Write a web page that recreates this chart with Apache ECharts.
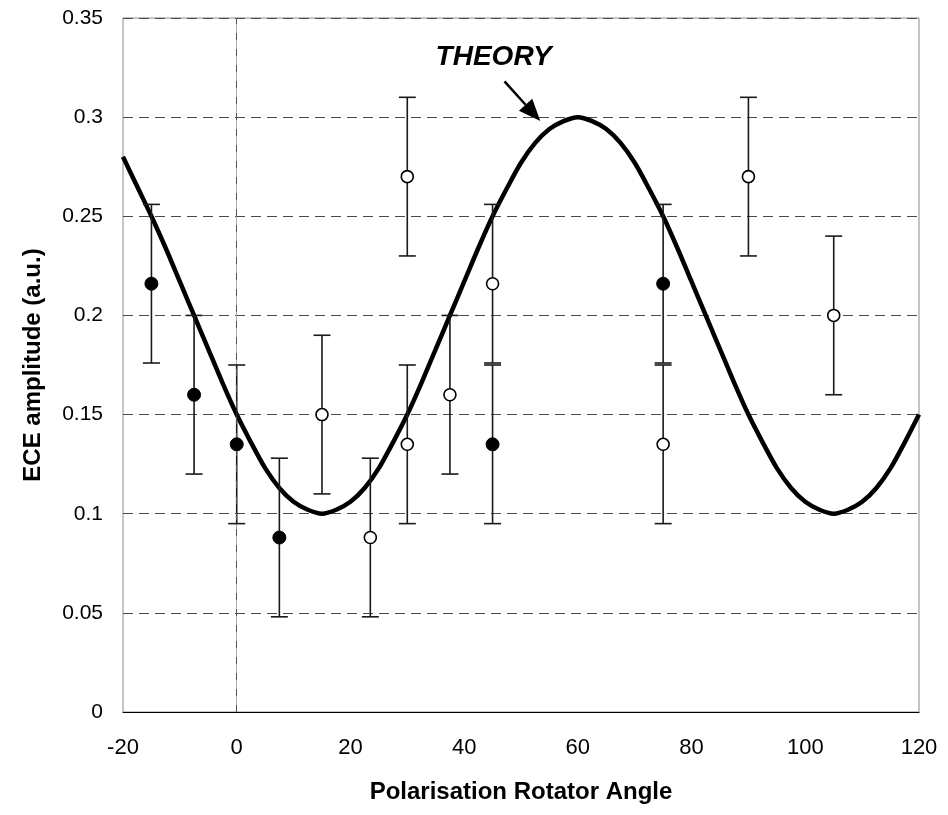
<!DOCTYPE html>
<html>
<head>
<meta charset="utf-8">
<script src="https://cdn.jsdelivr.net/npm/echarts@6/dist/echarts.min.js"></script>
<style>
  html, body { margin: 0; padding: 0; background: #fff; }
  #chart { width: 948px; height: 815px; }
</style>
</head>
<body>
<div id="chart"></div>
<script>
// Theoretical ECE amplitude vs. rotator angle (2.5 degree steps)
const theoryAngles = [-20, -17.5, -15, -12.5, -10, -7.5, -5, -2.5, 0, 2.5, 5, 7.5, 10, 12.5,
                      15, 17.5, 20, 22.5, 25, 27.5, 30, 32.5, 35, 37.5, 40, 42.5, 45, 47.5,
                      50, 52.5, 55, 57.5, 60, 62.5, 65, 67.5, 70, 72.5, 75, 77.5, 80, 82.5,
                      85, 87.5, 90, 92.5, 95, 97.5, 100, 102.5, 105, 107.5, 110, 112.5,
                      115, 117.5, 120];
const theoryValues = [0.280, 0.265, 0.250, 0.234, 0.217, 0.200, 0.183, 0.166, 0.150, 0.136,
                      0.123, 0.113, 0.106, 0.102, 0.100, 0.102, 0.106, 0.113, 0.123, 0.136,
                      0.150, 0.166, 0.183, 0.200, 0.217, 0.234, 0.250, 0.264, 0.277, 0.287,
                      0.294, 0.298, 0.300, 0.298, 0.294, 0.287, 0.277, 0.264, 0.250, 0.234,
                      0.217, 0.200, 0.183, 0.166, 0.150, 0.136, 0.123, 0.113, 0.106, 0.102,
                      0.100, 0.102, 0.106, 0.113, 0.123, 0.136, 0.150];

// Measured points, filled markers
const filledAngles = [-15, -7.5, 0, 7.5, 45, 75];
const filledValues = [0.216, 0.160, 0.135, 0.088, 0.135, 0.216];
const filledErrors = [0.04, 0.04, 0.04, 0.04, 0.04, 0.04];

// Measured points, open markers
const openAngles = [15, 23.5, 30, 30, 37.5, 45, 75, 90, 105];
const openValues = [0.150, 0.088, 0.270, 0.135, 0.160, 0.216, 0.135, 0.270, 0.200];
const openErrors = [0.04, 0.04, 0.04, 0.04, 0.04, 0.04, 0.04, 0.04, 0.04];

// Annotation
const theoryLabel = 'THEORY';
const theoryLabelAt = [45.2, 0.330];
const arrowFrom = [47.1, 0.318];
const arrowTo = [53.4, 0.298];

const FONT = '"Liberation Sans", Arial, sans-serif';

function pointsOf(xs, ys) { return xs.map((x, i) => [x, ys[i]]); }
function errRows(xs, ys, es) { return xs.map((x, i) => [x, ys[i], ys[i] - es[i], ys[i] + es[i]]); }

function renderErrorBar(params, api) {
  const x = api.value(0);
  const lo = api.coord([x, api.value(2)]);
  const hi = api.coord([x, api.value(3)]);
  const half = 8.5;
  const style = { stroke: '#1a1a1a', lineWidth: 1.6 };
  return {
    type: 'group',
    children: [
      { type: 'line', shape: { x1: hi[0], y1: hi[1], x2: lo[0], y2: lo[1] }, style },
      { type: 'line', shape: { x1: hi[0] - half, y1: hi[1], x2: hi[0] + half, y2: hi[1] }, style },
      { type: 'line', shape: { x1: lo[0] - half, y1: lo[1], x2: lo[0] + half, y2: lo[1] }, style }
    ]
  };
}

const chart = echarts.init(document.getElementById('chart'), null, { renderer: 'canvas' });

chart.setOption({
  animation: false,
  backgroundColor: '#fff',
  textStyle: { fontFamily: FONT },
  grid: {
    left: 123, right: 29, top: 18, bottom: 103,
    show: true, borderColor: '#8a8a8a', borderWidth: 1
  },
  xAxis: {
    type: 'value', min: -20, max: 120, interval: 20,
    name: 'Polarisation Rotator Angle',
    nameLocation: 'middle', nameGap: 68,
    nameTextStyle: { fontFamily: FONT, fontSize: 24, fontWeight: 'bold', color: '#000' },
    axisLine: { show: true, onZero: false, lineStyle: { color: '#000', width: 1.2 } },
    axisTick: { show: false },
    axisLabel: { fontFamily: FONT, fontSize: 22, color: '#000', margin: 25 },
    splitLine: { show: false }
  },
  yAxis: {
    type: 'value', min: 0, max: 0.35, interval: 0.05,
    name: 'ECE amplitude (a.u.)',
    nameLocation: 'middle', nameGap: 78, nameRotate: 90,
    nameTextStyle: { fontFamily: FONT, fontSize: 24, fontWeight: 'bold', color: '#000' },
    axisLine: { show: true, lineStyle: { color: '#9a9a9a', width: 1, type: 'dotted' } },
    axisTick: { show: false },
    axisLabel: { fontFamily: FONT, fontSize: 21, color: '#000', margin: 20 },
    splitLine: { show: true, lineStyle: { color: '#4a4a4a', width: 1.1, type: [10, 6] } }
  },
  series: [
    {
      // vertical reference line at zero angle
      type: 'line', data: [], silent: true,
      markLine: {
        silent: true, symbol: 'none', animation: false,
        label: { show: false },
        lineStyle: { color: '#555', width: 1, type: [7, 9] },
        data: [{ xAxis: 0 }]
      }
    },
    {
      name: 'theory', type: 'line', smooth: 0.3, showSymbol: false,
      data: pointsOf(theoryAngles, theoryValues),
      lineStyle: { color: '#000', width: 4.5 },
      z: 3,
      markPoint: {
        silent: true, animation: false,
        symbol: 'circle', symbolSize: 0,
        label: {
          show: true, formatter: theoryLabel, position: 'inside',
          fontFamily: FONT, fontSize: 28, fontWeight: 'bold', fontStyle: 'italic', color: '#000'
        },
        data: [{ coord: theoryLabelAt }]
      }
    },
    {
      type: 'custom', renderItem: renderErrorBar,
      data: errRows(filledAngles, filledValues, filledErrors),
      encode: { x: 0, y: [1, 2, 3] }, z: 4, silent: true
    },
    {
      type: 'custom', renderItem: renderErrorBar,
      data: errRows(openAngles, openValues, openErrors),
      encode: { x: 0, y: [1, 2, 3] }, z: 4, silent: true
    },
    {
      name: 'filled', type: 'scatter', symbol: 'circle', symbolSize: 13,
      data: pointsOf(filledAngles, filledValues),
      itemStyle: { color: '#000', borderColor: '#000', borderWidth: 1, opacity: 1 },
      z: 6
    },
    {
      name: 'open', type: 'scatter', symbol: 'circle', symbolSize: 12,
      data: pointsOf(openAngles, openValues),
      itemStyle: { color: '#fff', borderColor: '#000', borderWidth: 1.6, opacity: 1 },
      z: 6
    }
  ]
});

// Arrow pointing from the label to the theory curve, placed in data coordinates
function drawArrow() {
  const a = chart.convertToPixel({ gridIndex: 0 }, arrowFrom);
  const b = chart.convertToPixel({ gridIndex: 0 }, arrowTo);
  const dx = b[0] - a[0], dy = b[1] - a[1];
  const len = Math.hypot(dx, dy);
  const ux = dx / len, uy = dy / len;
  const headLen = 22, headHalf = 9;
  const bx = b[0] - ux * headLen, by = b[1] - uy * headLen;
  chart.setOption({
    graphic: [
      {
        type: 'line', silent: true, z: 10,
        shape: { x1: a[0], y1: a[1], x2: bx, y2: by },
        style: { stroke: '#000', lineWidth: 2.5 }
      },
      {
        type: 'polygon', silent: true, z: 10,
        shape: { points: [
          [b[0], b[1]],
          [bx - uy * headHalf, by + ux * headHalf],
          [bx + uy * headHalf, by - ux * headHalf]
        ] },
        style: { fill: '#000' }
      }
    ]
  });
}
drawArrow();
</script>
</body>
</html>
